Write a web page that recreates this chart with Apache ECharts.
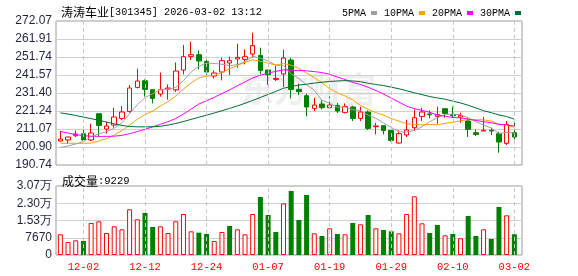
<!DOCTYPE html>
<html><head><meta charset="utf-8">
<script src="https://cdn.jsdelivr.net/npm/echarts/dist/echarts.min.js"></script>
<style>html,body{margin:0;padding:0;background:#fff}#c{width:578px;height:276px}</style>
</head><body><div id="c"></div>
<script>
const stockName = '涛涛车业';
const stockInfo = '[301345] 2026-03-02 13:12';
const dates = ['11-27','11-28','12-01','12-02','12-03','12-04','12-05','12-08','12-09','12-10',
 '12-11','12-12','12-15','12-16','12-17','12-18','12-19','12-22','12-23','12-24',
 '12-25','12-26','12-29','12-30','12-31','01-05','01-06','01-07','01-08','01-09',
 '01-12','01-13','01-14','01-15','01-16','01-19','01-20','01-21','01-22','01-23',
 '01-26','01-27','01-28','01-29','01-30','02-02','02-03','02-04','02-05','02-06',
 '02-09','02-10','02-11','02-12','02-13','02-24','02-25','02-26','02-27','03-02'];
const opens = [204.29,204.86,207.29,208.42,204.86,219.71,211.07,213.33,217.06,221.00,
 234.57,238.35,233.27,230.84,233.66,233.20,244.39,252.08,253.04,249.25,
 241.01,243.27,248.35,250.61,250.38,253.43,252.64,244.39,239.09,242.14,
 250.04,233.44,229.88,222.71,225.19,223.10,224.40,220.45,223.50,217.06,
 220.67,212.37,212.94,210.28,203.16,207.68,211.80,218.19,219.54,218.19,
 222.54,219.32,217.85,215.59,208.98,209.94,210.28,208.42,202.94,208.98];
const closes = [205.42,206.55,208.25,204.86,208.81,213.10,212.77,217.85,220.67,234.23,
 238.18,233.44,228.35,233.27,234.23,243.83,251.91,253.04,249.48,243.27,
 242.70,249.65,249.65,251.51,251.91,258.12,244.17,241.74,239.65,251.17,
 233.44,232.14,223.50,224.63,223.10,224.63,221.24,223.84,217.06,220.67,
 211.41,212.77,210.28,204.63,208.42,210.51,217.45,220.67,219.14,219.14,
 219.88,218.58,218.76,210.85,208.02,210.28,209.94,203.73,213.67,206.55];
const lows = [203.90,202.77,206.55,204.29,204.29,206.72,208.50,211.80,216.00,220.28,
 234.00,229.32,225.53,229.32,227.62,232.00,241.91,250.04,244.73,241.57,
 239.65,238.52,241.57,245.69,247.56,251.34,241.91,235.92,238.18,234.79,
 228.35,230.27,218.19,221.24,222.14,223.00,220.11,219.88,215.59,215.59,
 210.51,208.02,208.02,203.90,202.77,206.55,209.94,215.59,217.06,214.07,
 217.45,217.45,214.63,206.55,207.12,209.90,207.68,197.68,202.04,205.20];
const highs = [209.94,206.60,210.28,212.77,214.07,219.90,215.20,223.10,224.06,235.92,
 245.13,239.09,233.40,242.87,236.26,248.60,258.51,260.38,255.47,250.38,
 244.17,251.34,251.91,259.25,256.03,265.46,257.00,244.40,246.66,255.86,
 251.34,236.66,231.01,228.75,227.22,229.48,225.76,225.53,224.24,223.67,
 221.58,214.63,213.33,210.30,210.28,216.32,222.14,223.10,221.58,223.67,
 222.60,223.67,220.28,217.85,210.85,217.85,211.80,209.55,215.59,214.63];
const ma5 = [200.6,201.5,202.6,204.0,206.78,208.31,209.56,211.48,214.64,219.72,
 224.74,228.87,230.97,233.49,233.49,234.62,238.32,243.26,246.50,248.31,
 248.08,247.63,246.95,247.36,249.08,252.17,251.07,249.49,247.12,246.97,
 242.03,239.63,235.98,232.98,227.36,225.60,223.42,223.49,221.97,221.49,
 218.84,217.15,214.44,211.95,209.50,209.32,210.26,212.34,215.24,217.38,
 219.26,219.48,219.10,217.44,215.22,213.30,211.57,208.56,209.13,208.83];
const ma10 = [203.0,203.0,203.0,203.0,203.1,204.2,205.6,207.6,210.2,213.25,
 216.53,219.22,221.23,224.07,226.61,229.68,233.60,237.12,240.00,240.90,
 241.35,242.97,245.10,246.93,248.70,250.12,249.35,248.22,247.24,248.03,
 247.10,245.35,242.74,240.05,237.17,233.82,231.52,229.73,227.48,224.43,
 222.22,220.29,218.96,216.96,215.50,214.08,213.70,213.39,213.60,213.44,
 214.29,214.87,215.72,216.34,216.30,216.28,215.53,213.83,213.29,212.03];
const ma20 = [209.7,208.8,207.9,207.3,207.0,206.9,206.9,207.0,207.5,208.4,
 209.6,210.9,212.3,213.7,215.2,217.0,219.5,222.3,225.2,227.08,
 228.94,231.09,233.16,235.50,237.65,239.90,241.47,242.67,243.62,244.46,
 244.23,244.16,243.92,243.49,242.93,241.97,240.44,238.98,237.36,236.23,
 234.66,232.82,230.85,228.51,226.33,223.95,222.61,221.56,220.54,218.93,
 218.26,217.58,217.34,216.65,215.90,215.18,214.62,213.61,213.44,212.73];
const ma30 = [220.2,219.5,218.7,217.8,216.9,216.0,215.0,214.0,213.1,212.5,
 212.3,212.3,212.3,212.6,213.3,214.2,215.3,216.5,217.7,218.9,
 220.1,221.4,222.7,224.1,225.6,227.2,228.9,230.6,232.3,234.1,
 235.0,235.9,236.4,237.0,237.5,237.9,238.2,238.4,238.2,237.8,
 236.9,236.2,235.6,234.7,233.8,232.7,231.5,230.5,229.4,228.6,
 227.9,226.8,225.8,224.5,223.0,221.4,220.3,219.0,218.1,216.6];
const volumes = [9200,5780,6530,6220,14230,14980,9780,12760,11420,20320,
 15870,18670,12450,12760,9780,14980,18230,10530,9930,9340,
 6220,10230,12890,11420,9200,18230,25790,17780,10230,22980,
 28450,15560,26680,9640,8450,11860,9340,9200,14230,13640,
 17780,11860,11120,10530,9640,18230,26090,14090,9780,13340,
 8750,9340,7420,17340,8450,11420,7110,21340,17650,9229];
const volUp = [1,1,1,0,1,1,1,1,1,1,1,0,0,1,1,1,1,1,0,0,1,1,0,1,1,1,0,0,0,1,
 0,0,0,1,0,1,0,1,0,1,0,1,0,0,1,1,1,1,0,0,1,0,1,0,0,1,0,0,1,0];
const priceMin = 190.74, priceMax = 272.07;
const priceTicks = ['190.74','200.90','211.07','221.24','231.40','241.57','251.74','261.91','272.07'];
const volMax = 30680, volStep = 7670;
const volTicks = ['0','7670','1.53万','2.30万','3.07万'];
const labelDates = ['12-02','12-12','12-24','01-07','01-19','01-29','02-10','03-02'];
const maNames = ['5PMA','10PMA','20PMA','30PMA'];
const maColors = ['#a0a0a0','#f5a300','#ff00ff','#006e33'];

const RED = '#ff0000', GREEN = '#008000';
const chart = echarts.init(document.getElementById('c'), null, {renderer:'canvas'});
const mono = 'Liberation Mono';
const cjk = 'Noto Sans CJK SC';
const labelColor = '#1c2340';

const gridTop = 21, gridH = 144, vTop = 186, vH = 69;
const frameL = 56, frameR = 56, dataL = 56.5, dataR = 59.8;

function vlines(){
  return {symbol:'none', silent:true, label:{show:false}, animation:false,
    lineStyle:{type:[4,3], color:'#c8c8c8', width:1},
    data: labelDates.map(d=>({xAxis:d}))};
}

const option = {
  animation:false,
  backgroundColor:'#ffffff',
  textStyle:{fontFamily:'Liberation Sans'},
  title:[
    {left:56, top:1, text:'{a|'+stockName+'}{b|'+stockInfo+'}',
     textStyle:{fontWeight:'normal', rich:{a:{fontFamily:cjk,fontSize:12,fontWeight:'normal',color:'#000'},b:{fontFamily:mono,fontSize:10.2,fontWeight:'normal',color:'#000'}}}},
    {left:57, top:170, text:'{a|成交量}{b|:'+volumes[volumes.length-1]+'}',
     textStyle:{fontWeight:'normal', rich:{a:{fontFamily:cjk,fontSize:12,fontWeight:'normal',color:'#000'},b:{fontFamily:mono,fontSize:10.5,fontWeight:'normal',color:'#000'}}}}
  ],
  legend:{left:337, top:3, align:'right', itemWidth:6, itemHeight:4, itemGap:7, icon:'rect',
    textStyle:{fontFamily:mono, fontSize:10, color:'#000', padding:[0,0,0,0]},
    data: maNames.map((n,i)=>({name:n, itemStyle:{color:maColors[i]}}))},
  graphic:[{type:'text', left:240, top:72, z:-10, silent:true,
    style:{text:'东方财富', fontSize:34, fontWeight:'bold', fontFamily:cjk, fill:'#efefef'}}],
  grid:[
    {left:frameL, right:frameR, top:gridTop, height:gridH, show:true, borderColor:'#9a9a9a', borderWidth:1, backgroundColor:'transparent'},
    {left:dataL, right:dataR, top:gridTop, height:gridH},
    {left:frameL, right:frameR, top:vTop, height:vH, show:true, borderColor:'#9a9a9a', borderWidth:1, backgroundColor:'transparent'},
    {left:dataL, right:dataR, top:vTop, height:vH}
  ],
  xAxis:[
    {type:'value', gridIndex:0, min:0, max:1, show:false},
    {type:'category', gridIndex:1, data:dates, boundaryGap:true, show:false},
    {type:'value', gridIndex:2, min:0, max:1, show:false},
    {type:'category', gridIndex:3, data:dates, boundaryGap:true,
      axisLine:{show:false}, axisTick:{show:false}, splitLine:{show:false},
      axisLabel:{show:true, interval:(idx,val)=>labelDates.indexOf(val)>=0, color:RED, fontFamily:mono, fontSize:10.5, margin:7}}
  ],
  yAxis:[
    {type:'value', gridIndex:0, min:0, max:priceTicks.length-1, interval:1,
      axisLine:{show:false}, axisTick:{show:false},
      splitLine:{show:true, lineStyle:{color:'#cfcfcf', width:1}},
      axisLabel:{color:labelColor, fontSize:12, fontFamily:'Liberation Sans', margin:4,
        formatter:(v)=>priceTicks[Math.round(v)]}},
    {type:'value', gridIndex:1, min:priceMin, max:priceMax, show:false},
    {type:'value', gridIndex:2, min:0, max:volMax, interval:volStep,
      axisLine:{show:false}, axisTick:{show:false},
      splitLine:{show:true, lineStyle:{color:'#cfcfcf', width:1}},
      axisLabel:{color:labelColor, fontSize:12, fontFamily:'Liberation Sans', margin:4,
        formatter:(v)=>volTicks[Math.round(v/volStep)]}},
    {type:'value', gridIndex:3, min:0, max:volMax, show:false}
  ],
  series:[
    {type:'line', xAxisIndex:1, yAxisIndex:1, data:dates.map(()=>null), z:1, silent:true, markLine:vlines()},
    {type:'line', xAxisIndex:3, yAxisIndex:3, data:dates.map(()=>null), z:1, silent:true, markLine:vlines()},
    {type:'candlestick', name:'K', xAxisIndex:1, yAxisIndex:1, barWidth:5, z:3,
      data: dates.map((d,i)=>[opens[i], closes[i], lows[i], highs[i]]),
      itemStyle:{color:'#ffffff', color0:GREEN, borderColor:RED, borderColor0:GREEN, borderWidth:1}},
    ...[ma5,ma10,ma20,ma30].map((arr,k)=>({type:'line', name:maNames[k], xAxisIndex:1, yAxisIndex:1,
      data:arr, symbol:'none', z:4, lineStyle:{width:1, color:maColors[k]}, itemStyle:{color:maColors[k]}})),
    {type:'bar', xAxisIndex:3, yAxisIndex:3, barWidth:5, z:3,
      data: volumes.map((v,i)=>({value:v, itemStyle: volUp[i] ?
        {color:'#ffffff', borderColor:RED, borderWidth:1} : {color:GREEN, borderColor:GREEN, borderWidth:0}}))}
  ]
};
chart.setOption(option);
</script></body></html>
